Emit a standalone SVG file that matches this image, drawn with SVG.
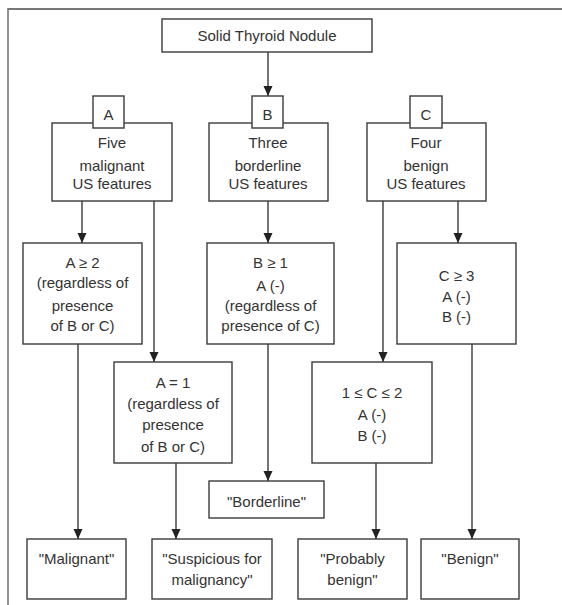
<svg xmlns="http://www.w3.org/2000/svg" width="562" height="605" viewBox="0 0 562 605">
<style>
  .box { fill: #ffffff; stroke: #3a3a3a; stroke-width: 1.4; }
  .t { font-family: "Liberation Sans", Arial, sans-serif; font-size: 15px; fill: #333333; text-anchor: middle; }
  .c { stroke: #3a3a3a; stroke-width: 1.4; fill: none; marker-end: url(#arr); }
  .frame { stroke: #777777; fill: none; }
</style>
<defs>
  <marker id="arr" markerUnits="userSpaceOnUse" markerWidth="10" markerHeight="10" refX="10" refY="4.5" orient="auto">
    <path d="M0,0 L10,4.5 L0,9 z" fill="#222222"/>
  </marker>
</defs>
<rect width="562" height="605" fill="#ffffff"/>
<g id="frame">
  <line class="frame" x1="8" y1="9" x2="562" y2="9" stroke-width="2.2"/>
  <line class="frame" x1="8" y1="8" x2="8" y2="605" stroke-width="1.6" stroke="#5a5a5a"/>
</g>
<g id="connectors">
  <line class="c" x1="268" y1="52" x2="268" y2="96"/>
  <line class="c" x1="82" y1="201" x2="82" y2="243"/>
  <line class="c" x1="154" y1="201" x2="154" y2="362"/>
  <line class="c" x1="268" y1="201" x2="268" y2="243"/>
  <line class="c" x1="383" y1="201" x2="383" y2="362"/>
  <line class="c" x1="458" y1="201" x2="458" y2="243"/>
  <line class="c" x1="78" y1="344" x2="78" y2="539"/>
  <line class="c" x1="176" y1="463" x2="176" y2="539"/>
  <line class="c" x1="268" y1="344" x2="268" y2="481"/>
  <line class="c" x1="376" y1="463" x2="376" y2="539"/>
  <line class="c" x1="472" y1="344" x2="472" y2="539"/>
</g>
<g id="root">
  <rect class="box" x="162" y="19" width="210" height="33"/>
  <text class="t" x="267" y="41">Solid Thyroid Nodule</text>
</g>
<g id="groupA">
  <rect class="box" x="52" y="123" width="120" height="78"/>
  <text class="t" x="112" y="148">Five</text>
  <text class="t" x="112" y="171">malignant</text>
  <text class="t" x="112" y="189">US features</text>
  <rect class="box" x="93" y="96" width="31" height="32"/>
  <text class="t" x="108.5" y="120">A</text>
</g>
<g id="groupB">
  <rect class="box" x="209" y="123" width="119" height="78"/>
  <text class="t" x="268" y="148">Three</text>
  <text class="t" x="268" y="171">borderline</text>
  <text class="t" x="268" y="189">US features</text>
  <rect class="box" x="252" y="96" width="31" height="32"/>
  <text class="t" x="267.5" y="120">B</text>
</g>
<g id="groupC">
  <rect class="box" x="367" y="123" width="119" height="78"/>
  <text class="t" x="426" y="148">Four</text>
  <text class="t" x="426" y="171">benign</text>
  <text class="t" x="426" y="189">US features</text>
  <rect class="box" x="410" y="96" width="32" height="32"/>
  <text class="t" x="426" y="120">C</text>
</g>
<g id="aGe2">
  <rect class="box" x="23" y="243" width="119" height="101"/>
  <text class="t" x="82.5" y="268">A ≥ 2</text>
  <text class="t" x="82.5" y="288">(regardless of</text>
  <text class="t" x="82.5" y="311">presence</text>
  <text class="t" x="82.5" y="331">of B or C)</text>
</g>
<g id="bGe1">
  <rect class="box" x="207" y="243" width="127" height="101"/>
  <text class="t" x="270.5" y="268">B ≥ 1</text>
  <text class="t" x="270.5" y="291">A (-)</text>
  <text class="t" x="270.5" y="311">(regardless of</text>
  <text class="t" x="270.5" y="331">presence of C)</text>
</g>
<g id="cGe3">
  <rect class="box" x="397" y="243" width="119" height="101"/>
  <text class="t" x="456.5" y="281">C ≥ 3</text>
  <text class="t" x="456.5" y="302">A (-)</text>
  <text class="t" x="456.5" y="322">B (-)</text>
</g>
<g id="aEq1">
  <rect class="box" x="114" y="362" width="118" height="101"/>
  <text class="t" x="173" y="388">A = 1</text>
  <text class="t" x="173" y="409">(regardless of</text>
  <text class="t" x="173" y="430">presence</text>
  <text class="t" x="173" y="452">of B or C)</text>
</g>
<g id="c12">
  <rect class="box" x="312" y="362" width="120" height="101"/>
  <text class="t" x="372" y="398">1 ≤ C ≤ 2</text>
  <text class="t" x="372" y="420">A (-)</text>
  <text class="t" x="372" y="441">B (-)</text>
</g>
<g id="borderline">
  <rect class="box" x="209" y="481" width="115" height="37"/>
  <text class="t" x="266.5" y="507">"Borderline"</text>
</g>
<g id="malignant">
  <rect class="box" x="27" y="539" width="99" height="60"/>
  <text class="t" x="76.5" y="564">"Malignant"</text>
</g>
<g id="suspicious">
  <rect class="box" x="152" y="539" width="120" height="60"/>
  <text class="t" x="212" y="564">"Suspicious for</text>
  <text class="t" x="212" y="585">malignancy"</text>
</g>
<g id="probably">
  <rect class="box" x="298" y="539" width="109" height="60"/>
  <text class="t" x="352.5" y="564">"Probably</text>
  <text class="t" x="352.5" y="585">benign"</text>
</g>
<g id="benign">
  <rect class="box" x="421" y="539" width="98" height="60"/>
  <text class="t" x="470" y="564">"Benign"</text>
</g>
</svg>
